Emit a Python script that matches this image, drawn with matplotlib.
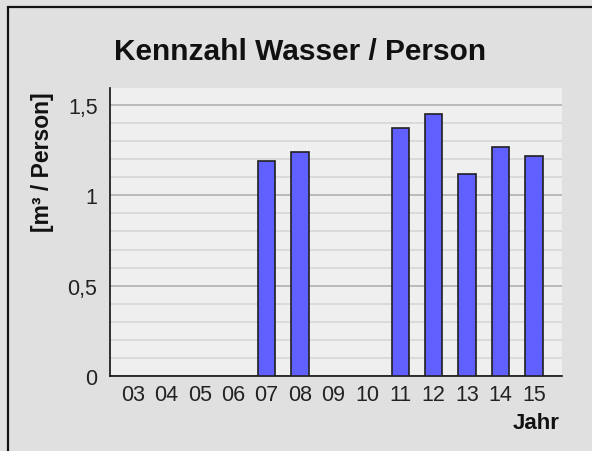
import numpy as np
import matplotlib.pyplot as plt
import matplotlib as mpl
from matplotlib.ticker import MultipleLocator, FuncFormatter

mpl.rcParams["font.family"] = ["Liberation Sans", "DejaVu Sans"]

# Data (no bar for the missing years)
years = ["03", "04", "05", "06", "07", "08", "09", "10", "11", "12", "13", "14", "15"]
values = [None, None, None, None, 1.19, 1.24, None, None, 1.37, 1.45, 1.12, 1.27, 1.22]

W, H = 592, 452
fig = plt.figure(figsize=(W / 100, H / 100), dpi=100, facecolor="#e0e0e0")

# frame: only the top and left edges are visible in the cropped picture
fig.add_artist(mpl.lines.Line2D([8 / W, 8 / W, 1], [0, 1 - 8 / H, 1 - 8 / H],
                                transform=fig.transFigure, color="#111111",
                                linewidth=1.6, solid_joinstyle="miter"))

ax = fig.add_axes([110 / W, 1 - 377 / H, 452 / W, 288 / H])
ax.set_facecolor("#efefef")

x = np.arange(len(years))
has = [v is not None for v in values]
ax.bar(x[has], [v for v in values if v is not None], width=0.52,
       color="#6060ff", edgecolor="#202020", linewidth=1.2, zorder=3)

ax.set_xlim(-0.69, 12.84)
ax.set_ylim(0, 1.594)
ax.set_xticks(x)
ax.set_xticklabels(years)
ax.yaxis.set_major_locator(MultipleLocator(0.5))
ax.yaxis.set_minor_locator(MultipleLocator(0.1))
ax.yaxis.set_major_formatter(FuncFormatter(
    lambda v, p: f"{v:g}".replace(".", ",")))
ax.grid(axis="y", which="major", color="#b0b0b0", linewidth=1.2, zorder=0)
ax.grid(axis="y", which="minor", color="#d6d6d6", linewidth=1.2, zorder=0)

for side in ["top", "right"]:
    ax.spines[side].set_visible(False)
for side in ["left", "bottom"]:
    ax.spines[side].set_color("#111111")
    ax.spines[side].set_linewidth(1.2)

ax.tick_params(axis="both", which="both", length=0, labelsize=15.5,
               colors="#222222")
ax.tick_params(axis="x", pad=6)
ax.tick_params(axis="y", pad=9)

fig.text(300 / W, 1 - 52 / H, "Kennzahl Wasser / Person", ha="center",
         va="center", fontsize=21.5, fontweight="bold", color="#111111")
fig.text(42 / W, 1 - 162 / H, "[m³ / Person]", ha="center", va="center",
         rotation=90, fontsize=16.5, fontweight="bold", color="#111111")
fig.text(560 / W, 1 - 424 / H, "Jahr", ha="right", va="center",
         fontsize=16, fontweight="bold", color="#111111")

fig.savefig("out.png", dpi=100, facecolor=fig.get_facecolor())
